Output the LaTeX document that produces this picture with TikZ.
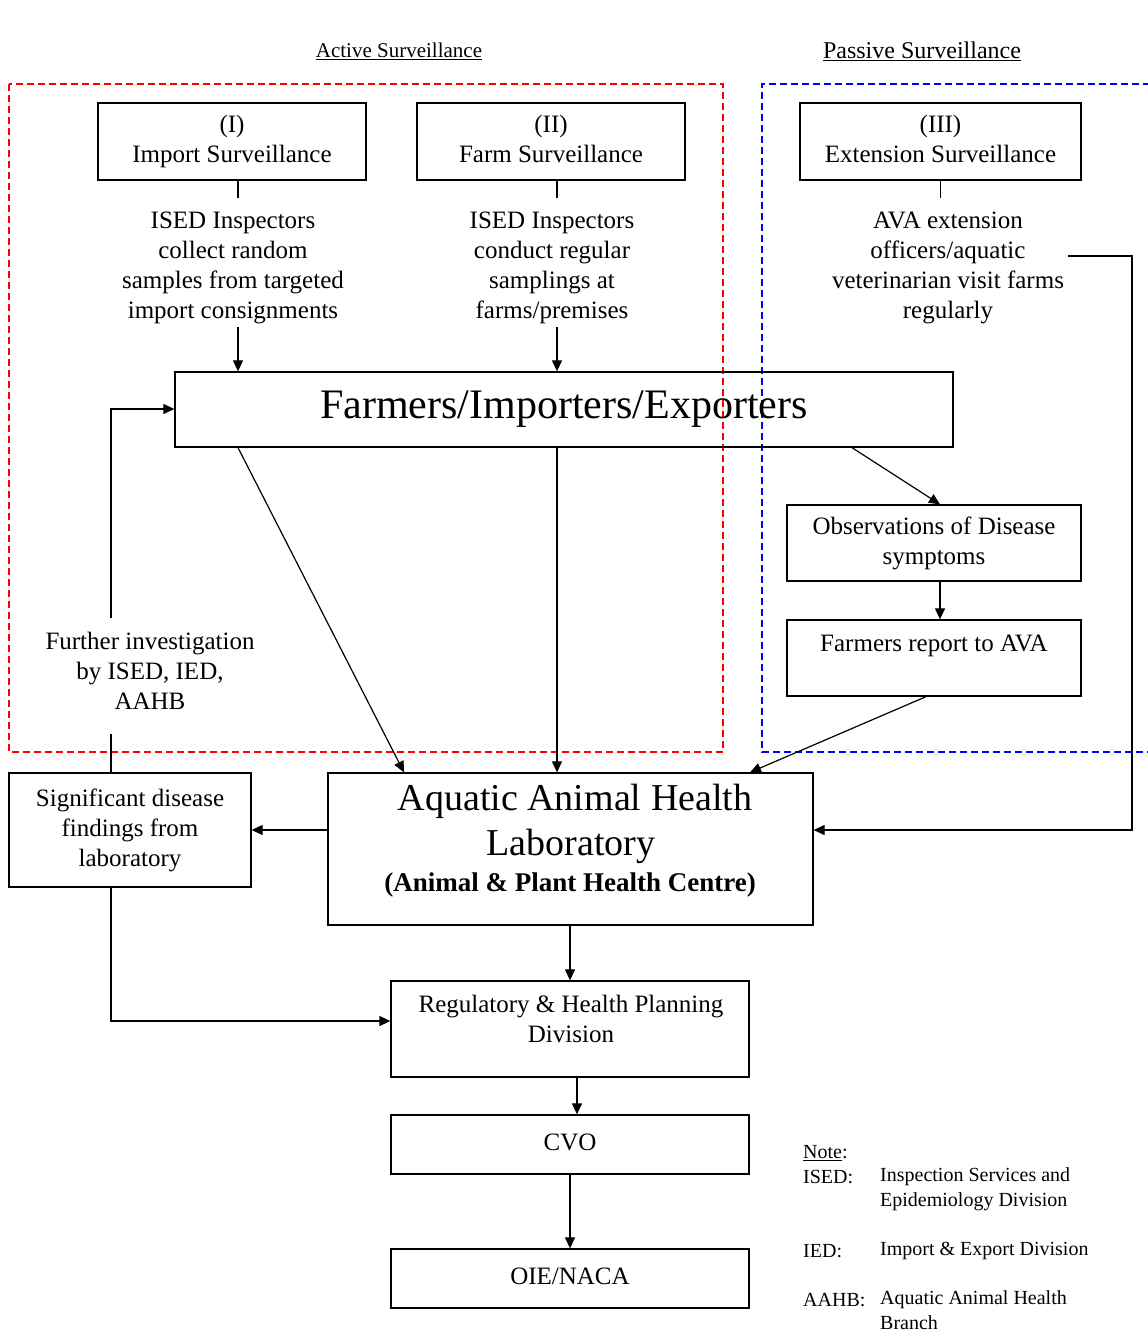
\documentclass[tikz,border=0pt]{standalone}
\usepackage{fontspec}
\setmainfont{Liberation Serif}
\usetikzlibrary{arrows.meta,calc}
\newcommand\fsmain{\fontsize{25}{30}\selectfont}
\newcommand\fsnote{\fontsize{20}{24.5}\selectfont}
\begin{document}
\begin{tikzpicture}[x=1pt,y=-1pt,
  box/.style={draw, line width=1.3pt, rectangle, inner sep=0pt, align=center, font=\fsmain},
  txt/.style={align=center, inner sep=0pt, font=\fsmain},
  conn/.style={line width=1.2pt},
  arr/.style={line width=1.2pt, -{Triangle[length=11pt,width=10pt]}},
  zone/.style={line width=1.3pt, dash pattern=on 7pt off 4pt},
  notetxt/.style={anchor=west, inner sep=0pt, font=\fsnote},
]
\useasboundingbox[fill=white] (0,0) rectangle (1148,1334);

% headings
\node[inner sep=0pt, font=\fontsize{21}{25}\selectfont] (acth) at (399,51) {\underline{Active Surveillance}};
\node[inner sep=0pt, font=\fontsize{24}{28}\selectfont] (pash) at (922,51) {\underline{Passive Surveillance}};

% surveillance zones
\draw[zone, red] (9,84) rectangle (723,752);
\draw[zone, blue] (1150,84) -- (762,84) -- (762,752) -- (1150,752);

% surveillance type boxes
\node[box, minimum width=268pt, minimum height=77pt] (imp) at (232,141.5) {(I)\strut\\Import Surveillance\strut};
\node[box, minimum width=268pt, minimum height=77pt] (frm) at (551,141.5) {(II)\strut\\Farm Surveillance\strut};
\node[box, minimum width=281pt, minimum height=77pt] (ext) at (940.5,141.5) {(III)\strut\\Extension Surveillance\strut};

% descriptions
\node[txt] (impt) at (233,267) {ISED Inspectors\strut\\collect random\strut\\samples from targeted\strut\\import consignments\strut};
\node[txt] (frmt) at (552,267) {ISED Inspectors\strut\\conduct regular\strut\\samplings at\strut\\farms/premises\strut};
\node[txt] (extt) at (948,267) {AVA extension\strut\\officers/aquatic\strut\\veterinarian visit farms\strut\\regularly\strut};

% stakeholders
\node[box, minimum width=778pt, minimum height=75pt, font=\fontsize{42}{48}\selectfont] (fie) at (564,409.5) {\raisebox{4pt}{Farmers/Importers/Exporters}};

% passive chain
\node[box, minimum width=294pt, minimum height=76pt] (obs) at (934,543) {Observations of Disease\strut\\symptoms\strut};
\node[box, minimum width=294pt, minimum height=76pt] (rep) at (934,658) {};
\node[txt] (rept) at (934,645) {Farmers report to AVA\strut};

% laboratory
\node[box, minimum width=485pt, minimum height=152pt] (lab) at (570.5,849) {};
\node[txt, font=\fontsize{38}{44}\selectfont] (labt1) at (575,801) {Aquatic Animal Health};
\node[txt, font=\fontsize{38}{44}\selectfont] (labt2) at (571,846) {Laboratory};
\node[txt, font=\fontsize{27}{32}\selectfont\bfseries] (labt3) at (570,885) {(Animal \& Plant Health Centre)};

\node[box, minimum width=242pt, minimum height=114pt] (sig) at (130,830) {Significant disease\strut\\findings from\strut\\laboratory\strut};
\node[txt] (fur) at (150,673) {Further investigation\strut\\by ISED, IED,\strut\\AAHB\strut};

% reporting chain
\node[box, minimum width=358pt, minimum height=96pt] (reg) at (570,1029) {};
\node[txt] (regt) at (571,1021) {Regulatory \& Health Planning\strut\\Division\strut};
\node[box, minimum width=358pt, minimum height=59pt] (cvo) at (570,1144.5) {\raisebox{4pt}{CVO}};
\node[box, minimum width=358pt, minimum height=59pt] (oie) at (570,1278.5) {\raisebox{4pt}{OIE/NACA}};

% key to abbreviations
\node[notetxt] (n0) at (803,1153) {\underline{Note}:};
\node[notetxt] (n1) at (803,1177) {ISED:};
\node[notetxt] (n1t) at (880,1189) {\begin{tabular}{@{}l@{}}Inspection Services and\\Epidemiology Division\end{tabular}};
\node[notetxt] (n2) at (803,1251) {IED:};
\node[notetxt] (n2t) at (880,1251) {Import \& Export Division};
\node[notetxt] (n3) at (803,1300) {AAHB:};
\node[notetxt] (n3t) at (880,1312) {\begin{tabular}{@{}l@{}}Aquatic Animal Health\\Branch\end{tabular}};

% connector anchors
\coordinate (ax) at (238,0);
\coordinate (bx) at (557,0);
\coordinate (cx) at (940.5,0);

% type boxes to descriptions to stakeholders
\draw[conn] (imp.south -| ax) -- ++(0,17);
\draw[conn] (frm.south -| bx) -- ++(0,17);
\draw[conn] (ext.south -| cx) -- ++(0,17);
\draw[arr] (fie.north -| ax) ++(0,-44) -- (fie.north -| ax);
\draw[arr] (fie.north -| bx) ++(0,-44) -- (fie.north -| bx);

% stakeholders to laboratory
\draw[arr] (fie.south -| ax) -- (lab.north -| 404,0);
\draw[arr] (fie.south -| bx) -- (lab.north -| bx);

% passive chain
\draw[arr] (fie.south -| 852,0) -- (obs.north -| 940,0);
\draw[arr] (obs.south -| 940,0) -- (rep.north -| 940,0);
\draw[arr] (rep.south -| 926,0) -- (lab.north -| 750,0);

% extension officers direct to laboratory
\coordinate (e1) at (1068,256);
\coordinate (e2) at (1132,256);
\draw[arr] (e1) -- (e2) -- (e2 |- 0,830) -- (lab.east |- 0,830);

% laboratory findings
\draw[arr] (lab.west |- sig.east) -- (sig.east);
\draw[conn] (sig.north -| 111,0) -- ++(0,-38);
\coordinate (f1) at (111,618);
\draw[arr] (f1) -- (f1 |- 0,409) -- (fie.west |- 0,409);
\draw[arr] (sig.south -| 111,0) -- (111,1021) -- (reg.west |- 0,1021);

% reporting chain
\draw[arr] (lab.south -| 570,0) -- (reg.north -| 570,0);
\draw[arr] (reg.south -| 577,0) -- (cvo.north -| 577,0);
\draw[arr] (cvo.south -| 570,0) -- (oie.north -| 570,0);
\end{tikzpicture}
\end{document}
